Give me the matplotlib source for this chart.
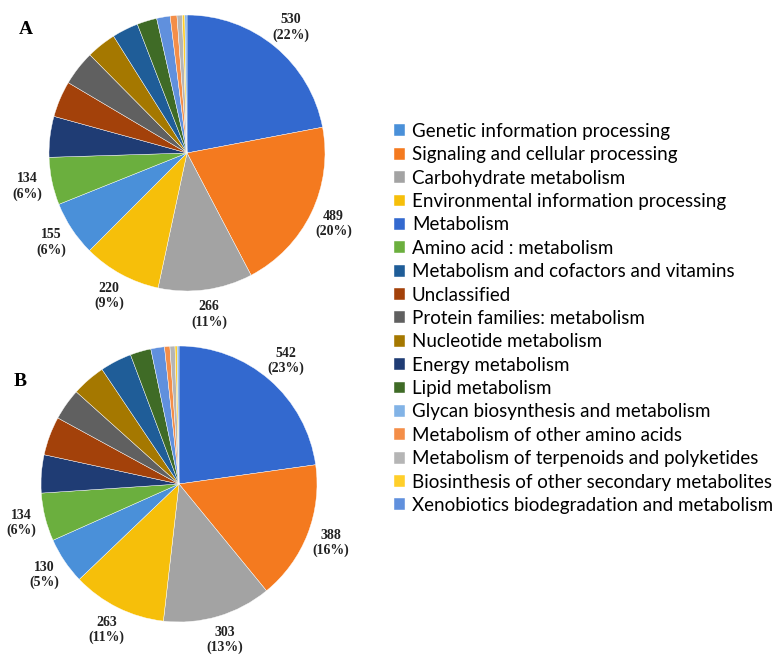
import matplotlib
matplotlib.use("Agg")
import matplotlib.pyplot as plt

# Categories in pie (clockwise) order
categories = [
    "Metabolism",
    "Signaling and cellular processing",
    "Carbohydrate metabolism",
    "Environmental information processing",
    "Genetic information processing",
    "Amino acid : metabolism",
    "Energy metabolism",
    "Unclassified",
    "Protein families: metabolism",
    "Nucleotide metabolism",
    "Metabolism and cofactors and vitamins",
    "Lipid metabolism",
    "Xenobiotics biodegradation and metabolism",
    "Metabolism of other amino acids",
    "Metabolism of terpenoids and polyketides",
    "Biosinthesis of other secondary metabolites",
    "Glycan biosynthesis and metabolism",
]
values_A = [530, 489, 266, 220, 155, 134, 115, 102, 98, 84, 74, 56, 38, 19, 15, 7, 6]
values_B = [542, 388, 303, 263, 130, 134, 106, 108, 88, 94, 88, 58, 38, 15, 14, 6, 5]
n_labeled = 6

colors = [
    "#3369CF", "#F47A1F", "#A3A3A3", "#F6BF0A", "#4A90D9", "#6BAF3E",
    "#1F3C74", "#A3410A", "#606060", "#A57800", "#1F5D98", "#3F6B26",
    "#6090DD", "#F48E48", "#B5B5B5", "#FFCF2A", "#82B3E6",
]

legend_order = [
    "Genetic information processing",
    "Signaling and cellular processing",
    "Carbohydrate metabolism",
    "Environmental information processing",
    "Metabolism",
    "Amino acid : metabolism",
    "Metabolism and cofactors and vitamins",
    "Unclassified",
    "Protein families: metabolism",
    "Nucleotide metabolism",
    "Energy metabolism",
    "Lipid metabolism",
    "Glycan biosynthesis and metabolism",
    "Metabolism of other amino acids",
    "Metabolism of terpenoids and polyketides",
    "Biosinthesis of other secondary metabolites",
    "Xenobiotics biodegradation and metabolism",
]

W, H = 773, 657
fig = plt.figure(figsize=(W / 100, H / 100), dpi=100)


def make_pie(cx, cy, r, values, panel, px, py):
    ax = fig.add_axes([(cx - r) / W, (H - cy - r) / H, 2 * r / W, 2 * r / H])
    total = sum(values)
    labels = []
    for i, v in enumerate(values):
        if i < n_labeled:
            labels.append(f"{v}\n({round(v / total * 100)}%)")
        else:
            labels.append("")
    wedges, texts = ax.pie(
        values, colors=colors, startangle=90, counterclock=False,
        labels=labels, labeldistance=1.18,
        wedgeprops=dict(edgecolor="white", linewidth=0.3),
        textprops=dict(family="Liberation Serif", fontweight="bold",
                       fontsize=10, color="#222222"),
    )
    for t in texts:
        t.set_ha("center")
        t.set_va("center")
        t.set_linespacing(1.2)
    ax.set_xlim(-1, 1)
    ax.set_ylim(-1, 1)
    ax.set_aspect("equal")
    ax.axis("off")
    fig.text(px / W, 1 - py / H, panel, family="Liberation Serif",
             fontweight="bold", fontsize=14, ha="center", va="center")
    return wedges


wedges_A = make_pie(187, 153, 138, values_A, "A", 26, 29)
make_pie(179, 484, 138, values_B, "B", 20, 381)

handles = [wedges_A[categories.index(name)] for name in legend_order]
fig.legend(
    handles, legend_order, loc="upper left",
    bbox_to_anchor=(394 / W, 1 - 123 / H), frameon=False,
    prop=dict(family="Lato", size=13.5),
    handlelength=0.6, handleheight=0.6, handletextpad=0.35,
    labelspacing=0.34, borderaxespad=0, borderpad=0,
)

fig.savefig("out.png", dpi=100, facecolor="white")
